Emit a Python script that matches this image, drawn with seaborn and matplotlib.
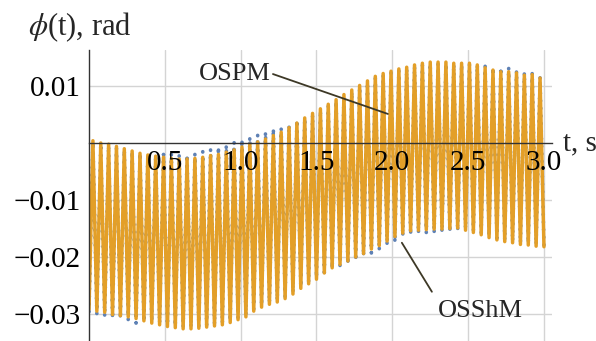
import numpy as np
import pandas as pd
import matplotlib
matplotlib.use("Agg")
import matplotlib.pyplot as plt
from matplotlib.ticker import MultipleLocator, FixedLocator, FixedFormatter
import seaborn as sns

# ---------------- data (values in units of 1e-3 rad) ----------------
n_peaks = 58
t_end = 3.0
# times of the oscillation extrema (troughs at k*T, peaks at (k+0.5)*T)
trough_t = np.arange(n_peaks + 1) * t_end / n_peaks
peak_t = (np.arange(n_peaks) + 0.5) * t_end / n_peaks

ospm_peaks = [0.4, 0.0, -0.2, -0.6, -1.0, -1.4, -1.8, -2.1, -2.3, -2.5,
              -2.7, -2.8, -2.8, -2.7, -2.5, -2.2, -2.0, -1.6, -1.2, -0.7,
              -0.2, 0.2, 0.7, 1.3, 1.9, 2.7, 3.5, 4.4, 5.2, 6.0,
              6.8, 7.6, 8.5, 9.3, 10.1, 10.9, 11.7, 12.2, 12.6, 13.0,
              13.3, 13.7, 14.0, 14.2, 14.2, 14.2, 14.0, 14.0, 14.0, 13.7,
              13.2, 12.8, 12.5, 12.5, 12.3, 11.9, 12.0, 11.4]
ospm_troughs = [-29.2, -29.5, -29.7, -30.1, -30.3, -30.5, -30.8, -31.2, -31.6, -31.9,
                -32.2, -32.4, -32.6, -32.6, -32.5, -32.3, -32.1, -31.9, -31.5, -31.0,
                -30.5, -29.5, -28.8, -28.3, -27.9, -27.3, -26.5, -25.5, -24.7, -23.9,
                -22.8, -21.9, -21.3, -20.7, -20.0, -19.4, -18.6, -18.0, -17.2, -16.4,
                -15.8, -15.4, -15.3, -15.2, -15.1, -15.1, -15.0, -14.9, -15.3, -15.7,
                -16.1, -16.6, -17.0, -17.3, -17.5, -17.8, -17.9, -18.1, -18.2]
osshm_peaks = [0.2, -0.2, -0.5, -0.9, -1.2, -1.5, -1.8, -2.0, -2.1, -2.0,
               -2.0, -2.1, -2.1, -1.9, -1.5, -1.1, -0.7, -0.4, 0.1, 0.6,
               1.0, 1.4, 1.9, 2.5, 2.5, 3.1, 4.0, 4.3, 4.9, 5.7,
               6.5, 7.3, 8.2, 9.0, 9.8, 10.6, 11.4, 11.9, 12.3, 12.7,
               13.0, 13.4, 13.7, 13.9, 13.9, 13.9, 13.8, 13.8, 13.8, 13.7,
               13.5, 13.2, 13.2, 13.2, 12.6, 12.3, 12.3, 11.6]
osshm_troughs = [-29.6, -30.0, -30.4, -30.8, -30.8, -31.1, -31.6, -31.3, -31.3, -31.6,
                 -31.9, -32.1, -32.3, -32.3, -32.2, -32.0, -31.8, -31.6, -31.2, -30.7,
                 -30.2, -29.2, -28.5, -28.0, -27.6, -27.0, -26.2, -25.2, -24.4, -23.6,
                 -22.7, -22.0, -21.6, -21.2, -20.6, -19.8, -19.3, -18.8, -17.9, -17.4,
                 -16.3, -16.1, -15.8, -15.8, -15.8, -15.6, -15.6, -15.4, -15.0, -15.4,
                 -15.8, -16.3, -16.7, -17.0, -17.2, -17.5, -17.6, -17.8, -17.9]

xtick_vals = [0.5, 1.0, 1.5, 2.0, 2.5, 3.0]
xtick_labels = ["0.5", "1.0", "1.5", "2.0", "2.5", "3.0"]
ytick_vals = [0.01, -0.01, -0.02, -0.03]
ytick_labels = ["0.01", "\u22120.01", "\u22120.02", "\u22120.03"]


def interleave(tr, pk):
    t = np.empty(len(tr) + len(pk))
    v = np.empty(len(tr) + len(pk))
    t[0::2] = trough_t
    t[1::2] = peak_t
    v[0::2] = np.asarray(tr) * 1e-3
    v[1::2] = np.asarray(pk) * 1e-3
    return t, v


t_o, v_o = interleave(ospm_troughs, ospm_peaks)
t_b, v_b = interleave(osshm_troughs, osshm_peaks)
df_o = pd.DataFrame({"t": t_o, "phi": v_o})
df_b = pd.DataFrame({"t": t_b, "phi": v_b})

# ---------------- style ----------------
sns.set_style("white")
plt.rcParams["font.family"] = ["Liberation Serif", "DejaVu Serif"]
plt.rcParams["mathtext.fontset"] = "stix"

W, H = 596, 341
fig = plt.figure(figsize=(W / 100, H / 100), dpi=100)
x0_px, x1_px, y0_px, ytop_px = 89, 552, 143, 50
ax = fig.add_axes([x0_px / W, 0, (x1_px - x0_px) / W, (H - ytop_px) / H])

orange = "#E39F28"
blue = "#5E81B5"

sns.lineplot(data=df_b, x="t", y="phi", sort=False, estimator=None, ax=ax,
             color=blue, lw=2.6, linestyle=(0, (0.1, 2.0)),
             dash_capstyle="round", zorder=2)
sns.lineplot(data=df_o, x="t", y="phi", sort=False, estimator=None, ax=ax,
             color=orange, lw=2.5, zorder=3, solid_joinstyle="round")

ax.set_xlim(0, 3.053)
ax.set_ylim(-0.03474, 0.01632)

for s in ["top", "right"]:
    ax.spines[s].set_visible(False)
ax.spines["left"].set_position(("data", 0))
ax.spines["bottom"].set_position(("data", 0))
for s in ["left", "bottom"]:
    ax.spines[s].set_color("#333333")
    ax.spines[s].set_linewidth(1.0)
    ax.spines[s].set_zorder(5)

ax.xaxis.set_major_locator(FixedLocator(xtick_vals))
ax.xaxis.set_major_formatter(FixedFormatter(xtick_labels))
ax.yaxis.set_major_locator(FixedLocator(ytick_vals))
ax.yaxis.set_major_formatter(FixedFormatter(ytick_labels))
ax.xaxis.set_minor_locator(MultipleLocator(0.1))
ax.yaxis.set_minor_locator(MultipleLocator(0.002))
ax.tick_params(which="both", direction="in", color="#333333", width=0.8,
               labelsize=21, labelcolor="black")
ax.tick_params(which="major", length=4.5)
ax.tick_params(which="minor", length=2.5)
ax.tick_params(axis="x", pad=5)
ax.tick_params(axis="y", pad=6)

# grid drawn below the data, axis (ticks + labels) drawn above
ax.grid(False)
for xv in xtick_vals:
    ax.axvline(xv, color="#d4d4d4", lw=1.0, zorder=0.5)
for yv in ytick_vals:
    ax.axhline(yv, color="#d4d4d4", lw=1.0, zorder=0.5)
ax.xaxis.set_zorder(4.5)
ax.yaxis.set_zorder(4.5)
ax.set_xlabel("")
ax.set_ylabel("")

# axis labels
fig.text(28 / W, 1 - 35 / H, r"$\phi$(t), rad", fontsize=22, va="baseline", ha="left")
fig.text(563 / W, 1 - 150 / H, "t, s", fontsize=21, va="baseline", ha="left")

# annotations
line_c = "#3d3826"
ax.text(0.962, 0.0121, "OSPM", fontsize=19, ha="center", va="center", zorder=6)
ax.plot([1.213, 1.971], [0.0121, 0.0051], color=line_c, lw=1.3, zorder=6)
ax.text(2.584, -0.0295, "OSShM", fontsize=19, ha="center", va="center", zorder=6)
ax.plot([2.261, 2.063], [-0.0261, -0.0175], color=line_c, lw=1.3, zorder=6)

fig.savefig("out.png", dpi=100)
